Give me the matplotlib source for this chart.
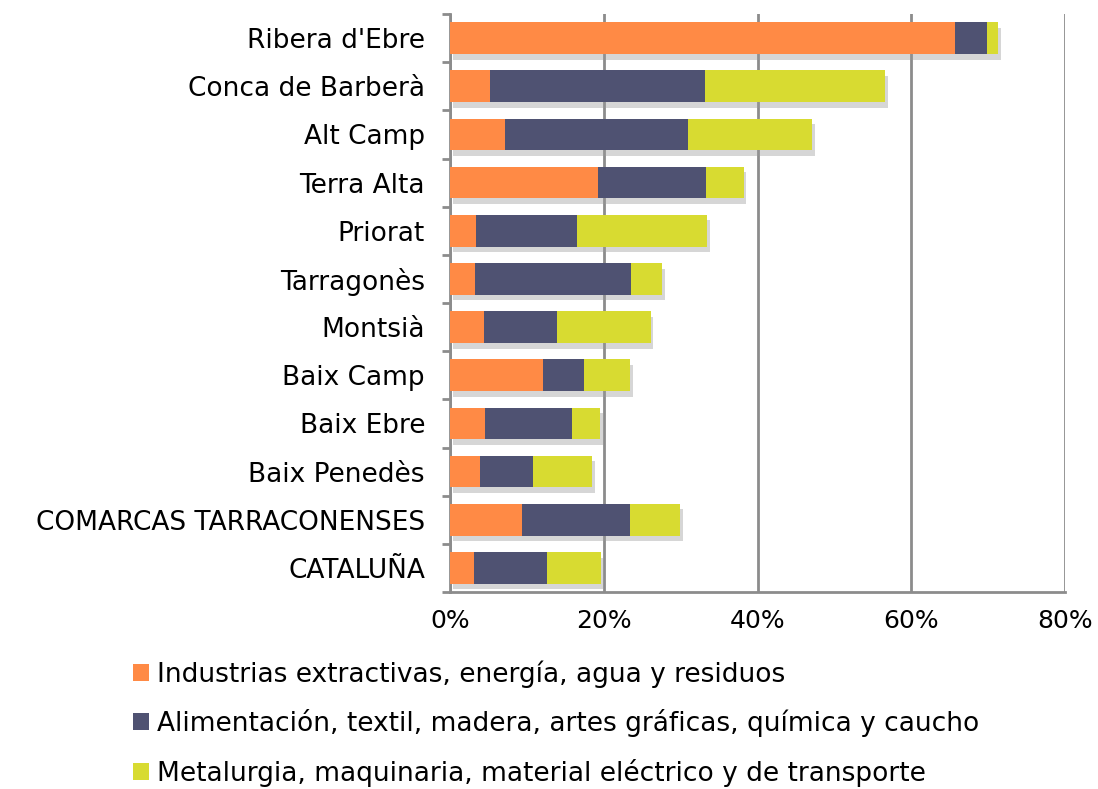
import matplotlib
matplotlib.use("Agg")
import matplotlib.pyplot as plt
import matplotlib.patheffects as pe
from matplotlib.patches import Patch
import numpy as np

categories = ["Ribera d'Ebre", "Conca de Barberà", "Alt Camp", "Terra Alta", "Priorat",
              "Tarragonès", "Montsià", "Baix Camp", "Baix Ebre", "Baix Penedès",
              "COMARCAS TARRACONENSES", "CATALUÑA"]
extractivas = [65.7, 5.2, 7.2, 19.3, 3.4, 3.3, 4.4, 12.1, 4.6, 3.9, 9.4, 3.1]
alimentacion = [4.2, 28.0, 23.8, 14.0, 13.1, 20.2, 9.5, 5.3, 11.3, 6.9, 14.0, 9.5]
metalurgia = [1.4, 23.4, 16.1, 4.9, 16.9, 4.1, 12.2, 6.0, 3.6, 7.7, 6.5, 7.0]
series_labels = ["Industrias extractivas, energía, agua y residuos",
                 "Alimentación, textil, madera, artes gráficas, química y caucho",
                 "Metalurgia, maquinaria, material eléctrico y de transporte"]
colors = ["#FF8A45", "#4F5272", "#D8DB31"]
xticks = [0, 20, 40, 60, 80]

plt.rcParams['font.family'] = ['DejaVu Sans']

fig = plt.figure(figsize=(10.98, 7.89), dpi=100)
ax = fig.add_axes([450/1098, 1-592/789, (1065-450)/1098, (592-14)/789])

y = np.arange(len(categories))[::-1]
shadow = [pe.SimplePatchShadow(offset=(2, -4), shadow_rgbFace='#999999', alpha=0.4), pe.Normal()]
left = np.zeros(len(categories))
for vals, col, lab in zip([extractivas, alimentacion, metalurgia], colors, series_labels):
    vals = np.array(vals)
    b = ax.barh(y, vals, left=left, height=0.66, color=col, label=lab, zorder=3, linewidth=0)
    for p in b:
        p.set_path_effects(shadow)
    left = left + vals

ax.set_xlim(0, 80)
ax.set_ylim(-0.5, len(categories)-0.5)
ax.set_xticks(xticks)
ax.set_xticklabels([f"{v}%" for v in xticks], fontsize=18)
ax.set_yticks(y)
ax.set_yticklabels(categories, fontsize=19)
ax.tick_params(axis='y', length=0, pad=18)
ax.tick_params(axis='x', length=0, pad=12)
ax.set_yticks(np.arange(len(categories)+1) - 0.5, minor=True)
ax.tick_params(axis='y', which='minor', length=6, width=2, color='#8c8c8c', direction='out')
ax.xaxis.grid(True, color='#8c8c8c', linewidth=2, zorder=0)
ax.set_axisbelow(True)
for s in ['top', 'right']:
    ax.spines[s].set_visible(False)
for s in ['left', 'bottom']:
    ax.spines[s].set_color('#8c8c8c')
    ax.spines[s].set_linewidth(2)

proxies = [Patch(facecolor=c, edgecolor='none') for c in colors]
fig.legend(handles=proxies, labels=series_labels, loc='upper left',
           bbox_to_anchor=(133/1098, 1-660/789), frameon=False, fontsize=19,
           handlelength=0.6, handleheight=0.6, handletextpad=0.3, labelspacing=0.82,
           borderaxespad=0, borderpad=0)

fig.savefig("out.png", dpi=100)
